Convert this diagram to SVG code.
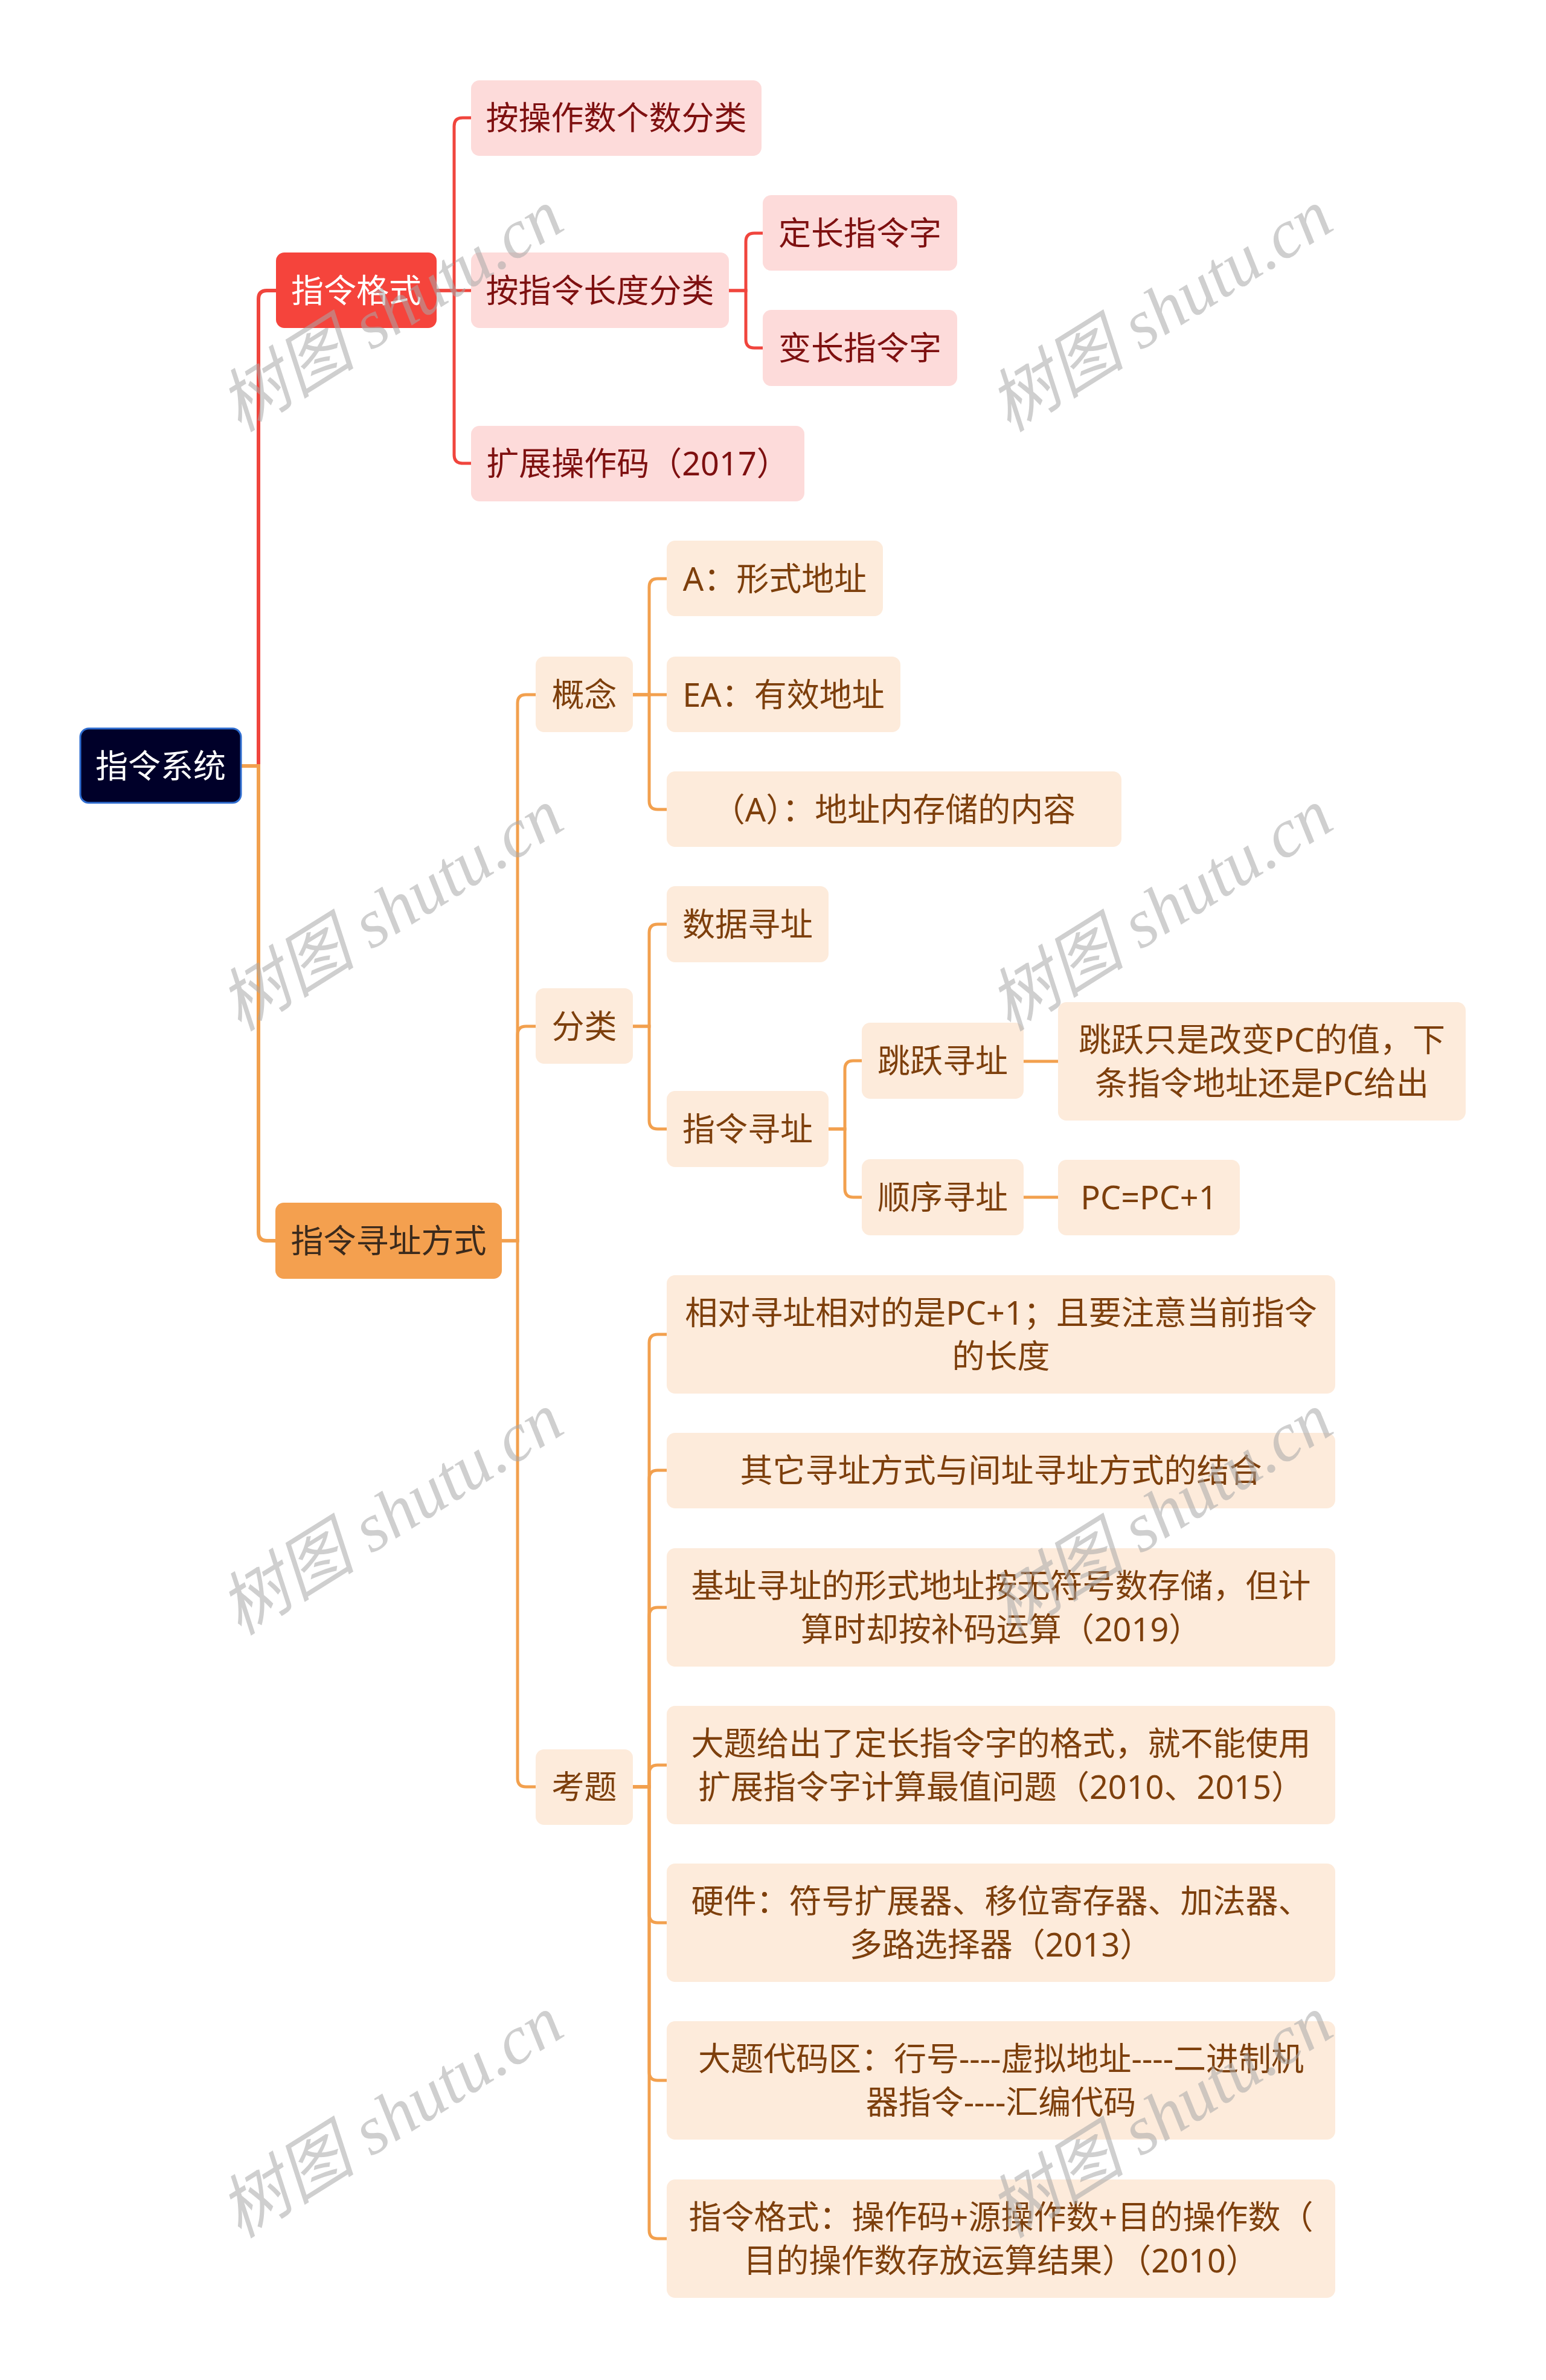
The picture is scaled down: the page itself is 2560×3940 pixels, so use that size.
<svg xmlns="http://www.w3.org/2000/svg" width="2560" height="3940" viewBox="0 0 2560 3940">
<style>
.t{font-family:'Noto Sans','Noto Sans CJK SC',sans-serif;font-size:54px;text-anchor:middle}
.w{fill:#ffffff}.dr{fill:#7E1010}.br{fill:#7D3F0C}.dk{fill:#3B2A1C}
.pink{fill:#FDDBDA}.beige{fill:#FDEBDB}
.lr{stroke:#F0453D;fill:none;stroke-width:5}
.lo{stroke:#F2A04E;fill:none;stroke-width:5}
.lr6{stroke:#F0453D;fill:none;stroke-width:6}
.lo6{stroke:#F2A04E;fill:none;stroke-width:6}
.wm{font-family:'Liberation Serif','Noto Sans CJK SC',serif;font-style:italic;font-size:114px;fill:#a8a8a8;fill-opacity:0.55;text-anchor:middle}
</style>
<rect width="2560" height="3940" fill="#ffffff"/>
<g id="connectors">
<path class="lr6" d="M400,1268 H428 V495 Q428,481 442,481 H457"/>
<path class="lo6" d="M400,1268 H428 V2040 Q428,2054 442,2054 H456"/>
<path class="lr" d="M723,481 H752 V209 Q752,195 766,195 H780"/>
<path class="lr" d="M723,481 H780"/>
<path class="lr" d="M723,481 H752 V753 Q752,767 766,767 H780"/>
<path class="lr" d="M1207,481 H1235 V400 Q1235,386 1249,386 H1263"/>
<path class="lr" d="M1207,481 H1235 V562 Q1235,576 1249,576 H1263"/>
<path class="lo" d="M831,2054 H857 V1164 Q857,1150 871,1150 H887"/>
<path class="lo" d="M831,2054 H857 V1713 Q857,1699 871,1699 H887"/>
<path class="lo" d="M831,2054 H857 V2944 Q857,2958 871,2958 H887"/>
<path class="lo" d="M1048,1150 H1075 V972 Q1075,958 1089,958 H1104"/>
<path class="lo" d="M1048,1150 H1104"/>
<path class="lo" d="M1048,1150 H1075 V1326 Q1075,1340 1089,1340 H1104"/>
<path class="lo" d="M1048,1699 H1075 V1544 Q1075,1530 1089,1530 H1104"/>
<path class="lo" d="M1048,1699 H1075 V1855 Q1075,1869 1089,1869 H1104"/>
<path class="lo" d="M1372,1869 H1399 V1770 Q1399,1756 1413,1756 H1427"/>
<path class="lo" d="M1372,1869 H1399 V1968 Q1399,1982 1413,1982 H1427"/>
<path class="lo" d="M1695,1757 H1752"/>
<path class="lo" d="M1695,1982 H1752"/>
<path class="lo" d="M1048,2958 H1075 V2223 Q1075,2209 1089,2209 H1104"/>
<path class="lo" d="M1048,2958 H1075 V2448 Q1075,2434 1089,2434 H1104"/>
<path class="lo" d="M1048,2958 H1075 V2675 Q1075,2661 1089,2661 H1104"/>
<path class="lo" d="M1048,2958 H1075 V2936 Q1075,2922 1089,2922 H1104"/>
<path class="lo" d="M1048,2958 H1075 V3169 Q1075,3183 1089,3183 H1104"/>
<path class="lo" d="M1048,2958 H1075 V3430 Q1075,3444 1089,3444 H1104"/>
<path class="lo" d="M1048,2958 H1075 V3692 Q1075,3706 1089,3706 H1104"/>
</g>
<g id="root"><rect x="133" y="1206" width="266" height="123" rx="14" fill="#000029" stroke="#2F6DD0" stroke-width="3"/><text class="t w" x="266" y="1288">指令系统</text></g>
<g id="n-format"><rect x="457" y="418" width="266" height="125" rx="14" fill="#F5443C"/><text class="t w" x="590" y="501">指令格式</text></g>
<g id="n-addr"><rect x="456" y="1991" width="375" height="126" rx="14" fill="#F4A04F"/><text class="t dk" x="643.5" y="2074">指令寻址方式</text></g>
<g id="n-f1"><rect class="pink" x="780" y="133" width="481" height="125" rx="14"/><text class="t dr" x="1020.5" y="215">按操作数个数分类</text></g>
<g id="n-f2"><rect class="pink" x="780" y="418" width="427" height="125" rx="14"/><text class="t dr" x="993.5" y="501">按指令长度分类</text></g>
<g id="n-f3"><rect class="pink" x="780" y="705" width="552" height="125" rx="14"/><text class="t dr" x="1056" y="787">扩展操作码（2017）</text></g>
<g id="n-f21"><rect class="pink" x="1263" y="323" width="322" height="125" rx="14"/><text class="t dr" x="1424" y="406">定长指令字</text></g>
<g id="n-f22"><rect class="pink" x="1263" y="513" width="322" height="126" rx="14"/><text class="t dr" x="1424" y="596">变长指令字</text></g>
<g id="n-concept"><rect class="beige" x="887" y="1087" width="161" height="125" rx="14"/><text class="t br" x="967.5" y="1170">概念</text></g>
<g id="n-class"><rect class="beige" x="887" y="1636" width="161" height="125" rx="14"/><text class="t br" x="967.5" y="1719">分类</text></g>
<g id="n-exam"><rect class="beige" x="887" y="2896" width="161" height="125" rx="14"/><text class="t br" x="967.5" y="2978">考题</text></g>
<g id="n-c1"><rect class="beige" x="1104" y="895" width="358" height="125" rx="14"/><text class="t br" x="1283" y="978">A：形式地址</text></g>
<g id="n-c2"><rect class="beige" x="1104" y="1087" width="387" height="125" rx="14"/><text class="t br" x="1297.5" y="1170">EA：有效地址</text></g>
<g id="n-c3"><rect class="beige" x="1104" y="1277" width="753" height="125" rx="14"/><text class="t br" x="1480.5" y="1360">（A）：地址内存储的内容</text></g>
<g id="n-d1"><rect class="beige" x="1104" y="1467" width="268" height="126" rx="14"/><text class="t br" x="1238" y="1550">数据寻址</text></g>
<g id="n-d2"><rect class="beige" x="1104" y="1806" width="268" height="126" rx="14"/><text class="t br" x="1238" y="1889">指令寻址</text></g>
<g id="n-j"><rect class="beige" x="1427" y="1693" width="268" height="126" rx="14"/><text class="t br" x="1561" y="1776">跳跃寻址</text></g>
<g id="n-s"><rect class="beige" x="1427" y="1919" width="268" height="126" rx="14"/><text class="t br" x="1561" y="2002">顺序寻址</text></g>
<g id="n-jd"><rect class="beige" x="1752" y="1659" width="675" height="196" rx="14"/><text class="t br" x="2089.5" y="1741">跳跃只是改变PC的值，下</text><text class="t br" x="2089.5" y="1813">条指令地址还是PC给出</text></g>
<g id="n-sd"><rect class="beige" x="1752" y="1920" width="301" height="125" rx="14"/><text class="t br" x="1902.5" y="2002">PC=PC+1</text></g>
<g id="n-k1"><rect class="beige" x="1104" y="2111" width="1107" height="196" rx="14"/><text class="t br" x="1657.5" y="2193">相对寻址相对的是PC+1；且要注意当前指令</text><text class="t br" x="1657.5" y="2265">的长度</text></g>
<g id="n-k2"><rect class="beige" x="1104" y="2372" width="1107" height="125" rx="14"/><text class="t br" x="1657.5" y="2454">其它寻址方式与间址寻址方式的结合</text></g>
<g id="n-k3"><rect class="beige" x="1104" y="2563" width="1107" height="196" rx="14"/><text class="t br" x="1657.5" y="2645">基址寻址的形式地址按无符号数存储，但计</text><text class="t br" x="1657.5" y="2717">算时却按补码运算（2019）</text></g>
<g id="n-k4"><rect class="beige" x="1104" y="2824" width="1107" height="196" rx="14"/><text class="t br" x="1657.5" y="2906">大题给出了定长指令字的格式，就不能使用</text><text class="t br" x="1657.5" y="2978">扩展指令字计算最值问题（2010、2015）</text></g>
<g id="n-k5"><rect class="beige" x="1104" y="3085" width="1107" height="196" rx="14"/><text class="t br" x="1657.5" y="3167">硬件：符号扩展器、移位寄存器、加法器、</text><text class="t br" x="1657.5" y="3239">多路选择器（2013）</text></g>
<g id="n-k6"><rect class="beige" x="1104" y="3346" width="1107" height="196" rx="14"/><text class="t br" x="1657.5" y="3428">大题代码区：行号----虚拟地址----二进制机</text><text class="t br" x="1657.5" y="3500">器指令----汇编代码</text></g>
<g id="n-k7"><rect class="beige" x="1104" y="3608" width="1107" height="196" rx="14"/><text class="t br" x="1657.5" y="3690">指令格式：操作码+源操作数+目的操作数（</text><text class="t br" x="1657.5" y="3762">目的操作数存放运算结果）（2010）</text></g>
<g id="watermarks">
<text class="wm" transform="translate(648,515) rotate(-32)" y="38">树图 shutu.cn</text>
<text class="wm" transform="translate(1922,515) rotate(-32)" y="38">树图 shutu.cn</text>
<text class="wm" transform="translate(648,1507) rotate(-32)" y="38">树图 shutu.cn</text>
<text class="wm" transform="translate(1922,1507) rotate(-32)" y="38">树图 shutu.cn</text>
<text class="wm" transform="translate(648,2507) rotate(-32)" y="38">树图 shutu.cn</text>
<text class="wm" transform="translate(1922,2507) rotate(-32)" y="38">树图 shutu.cn</text>
<text class="wm" transform="translate(648,3505) rotate(-32)" y="38">树图 shutu.cn</text>
<text class="wm" transform="translate(1922,3505) rotate(-32)" y="38">树图 shutu.cn</text>
</g>
</svg>
